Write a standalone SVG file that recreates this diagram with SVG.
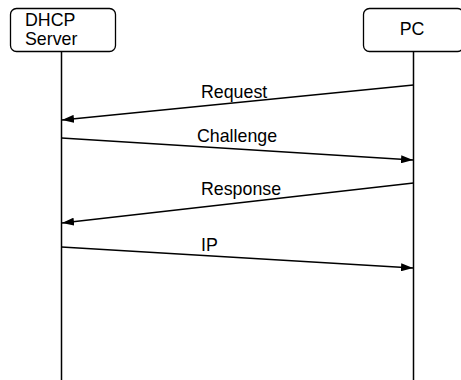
<svg xmlns="http://www.w3.org/2000/svg" width="461" height="380" viewBox="0 0 461 380">
<style>
.box{fill:#fff;stroke:#000;stroke-width:1.3}
.life{stroke:#000;stroke-width:1.5}
.msg{stroke:#000;stroke-width:1.5;fill:none;marker-end:url(#ah)}
text{font-family:"Liberation Sans",Arial,sans-serif;font-size:17.8px;fill:#000}
</style>
<defs>
<marker id="ah" viewBox="0 0 12 8" refX="12" refY="4" markerWidth="12" markerHeight="8" markerUnits="userSpaceOnUse" orient="auto">
<path d="M0,0 L12,4 L0,8 Z" fill="#000"/>
</marker>
</defs>
<g id="connectors">
<line class="life" x1="61.5" y1="52" x2="61.5" y2="380"/>
<line class="life" x1="413.5" y1="52" x2="413.5" y2="380"/>
<line class="msg" x1="413.5" y1="85" x2="62" y2="120"/>
<line class="msg" x1="61.5" y1="138" x2="413" y2="160"/>
<line class="msg" x1="413.5" y1="183" x2="62" y2="223"/>
<line class="msg" x1="61.5" y1="247" x2="413" y2="268"/>
<text x="201" y="98">Request</text>
<text x="197" y="142">Challenge</text>
<text x="201" y="195">Response</text>
<text x="201" y="251">IP</text>
</g>
<g id="dhcp">
<rect class="box" x="10.5" y="8.5" width="105" height="43" rx="6"/>
<text x="25" y="26">DHCP</text>
<text x="25" y="45">Server</text>
</g>
<g id="pc">
<rect class="box" x="363.5" y="8.5" width="100" height="43" rx="6"/>
<text x="412" y="35" text-anchor="middle">PC</text>
</g>
</svg>
